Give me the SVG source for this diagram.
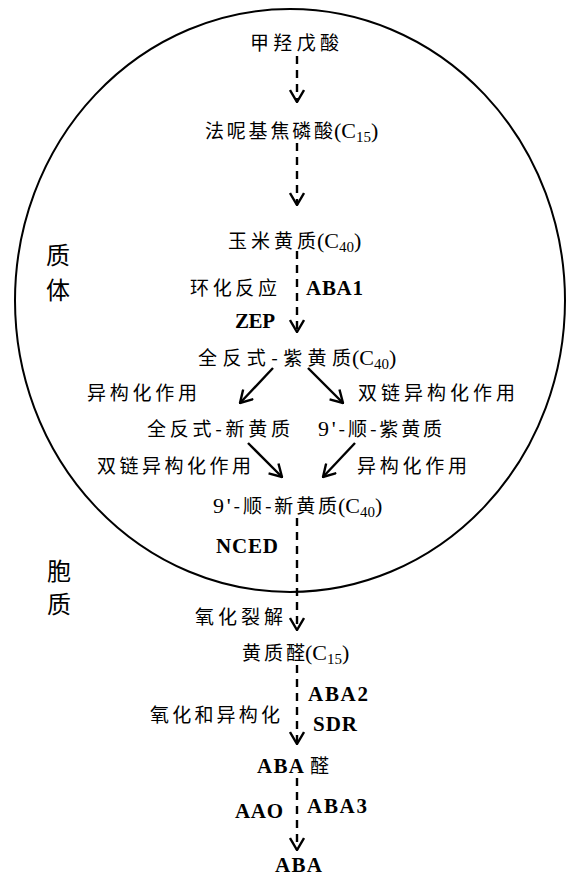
<svg xmlns="http://www.w3.org/2000/svg" width="567" height="877" viewBox="0 0 567 877">
<style>
.cn{font-family:"Noto Sans CJK SC","Noto Sans",sans-serif;font-size:19px;fill:#000}
.lt{font-family:"Liberation Serif","Noto Sans CJK SC",serif;font-size:21px;font-weight:bold;fill:#000}
.mx{font-family:"Liberation Serif","Noto Sans CJK SC",serif;font-size:22px;fill:#000}
.side{font-family:"Noto Sans CJK SC",sans-serif;font-size:24px;fill:#000}
.dash{stroke:#000;stroke-width:2.4;stroke-dasharray:8 6;fill:none}
.solid{stroke:#000;stroke-width:2.4;fill:none}
.sub{font-size:15px}
</style>
<defs>
<marker id="ah" viewBox="0 0 14 16" refX="13" refY="8" markerWidth="14" markerHeight="16" markerUnits="userSpaceOnUse" orient="auto">
<path d="M1,1 L13,8 L1,15" fill="none" stroke="#000" stroke-width="2.4"/>
</marker>
</defs>
<rect width="567" height="877" fill="#fff"/>
<g id="plastid">
<ellipse cx="290" cy="300.5" rx="275" ry="291.5" fill="none" stroke="#000" stroke-width="2"/>
</g>
<g id="region-labels">
<text class="side" x="46" y="264">质</text>
<text class="side" x="46" y="299">体</text>
<text class="side" x="47" y="580">胞</text>
<text class="side" x="47" y="613">质</text>
</g>
<g id="connectors">
<line class="dash" x1="297" y1="56" x2="297" y2="102" marker-end="url(#ah)"/>
<line class="dash" x1="297" y1="143" x2="297" y2="205" marker-end="url(#ah)"/>
<line class="dash" x1="297" y1="251" x2="297" y2="332" marker-end="url(#ah)"/>
<line class="solid" x1="273" y1="368" x2="240" y2="403" marker-end="url(#ah)"/>
<line class="solid" x1="308" y1="368" x2="343" y2="403" marker-end="url(#ah)"/>
<line class="solid" x1="248" y1="443" x2="282" y2="477" marker-end="url(#ah)"/>
<line class="solid" x1="355" y1="443" x2="323" y2="477" marker-end="url(#ah)"/>
<line class="dash" x1="297" y1="518" x2="297" y2="630" marker-end="url(#ah)"/>
<line class="dash" x1="297" y1="665" x2="297" y2="744" marker-end="url(#ah)"/>
<line class="dash" x1="297" y1="778" x2="297" y2="850" marker-end="url(#ah)"/>
</g>
<g id="n-mva"><text class="cn" x="250" y="50" font-size="20" textLength="89">甲羟戊酸</text></g>
<g id="n-fpp"><text class="mx" y="138"><tspan class="cn" font-size="20" x="205" textLength="128">法呢基焦磷酸</tspan><tspan x="334">(C</tspan><tspan class="sub" dy="4">15</tspan><tspan dy="-4">)</tspan></text></g>
<g id="n-zea"><text class="mx" y="248"><tspan class="cn" font-size="20" x="228" textLength="88">玉米黄质</tspan><tspan x="317">(C</tspan><tspan class="sub" dy="4">40</tspan><tspan dy="-4">)</tspan></text></g>
<g id="l-cyc"><text class="cn" x="190" y="295" textLength="87">环化反应</text></g>
<g id="l-aba1"><text class="lt" x="306" y="295" textLength="57">ABA1</text></g>
<g id="l-zep"><text class="lt" x="235" y="328" textLength="40">ZEP</text></g>
<g id="n-atv"><text class="mx" y="365"><tspan class="cn" font-size="20" x="198" textLength="153">全反式-紫黄质</tspan><tspan x="352">(C</tspan><tspan class="sub" dy="4">40</tspan><tspan dy="-4">)</tspan></text></g>
<g id="l-iso1"><text class="cn" x="87" y="400" textLength="110">异构化作用</text></g>
<g id="l-dbl1"><text class="cn" x="358" y="400" textLength="157">双链异构化作用</text></g>
<g id="n-atn"><text class="cn" x="147" y="436" font-size="20" textLength="143">全反式-新黄质</text></g>
<g id="n-cv"><text class="cn" x="318" y="436" font-size="20" textLength="124"><tspan font-family="Liberation Serif" font-size="22">9'</tspan>-顺-紫黄质</text></g>
<g id="l-dbl2"><text class="cn" x="97" y="473" textLength="154">双链异构化作用</text></g>
<g id="l-iso2"><text class="cn" x="357" y="473" textLength="110">异构化作用</text></g>
<g id="n-cn"><text class="mx" y="513"><tspan class="cn" font-size="20" x="213" textLength="124"><tspan font-family="Liberation Serif" font-size="22">9'</tspan>-顺-新黄质</tspan><tspan x="338">(C</tspan><tspan class="sub" dy="4">40</tspan><tspan dy="-4">)</tspan></text></g>
<g id="l-nced"><text class="lt" x="216" y="553" textLength="62">NCED</text></g>
<g id="l-ox"><text class="cn" x="195" y="624" textLength="88">氧化裂解</text></g>
<g id="n-xan"><text class="mx" y="660"><tspan class="cn" font-size="20" x="242" textLength="63">黄质醛</tspan><tspan x="305">(C</tspan><tspan class="sub" dy="4">15</tspan><tspan dy="-4">)</tspan></text></g>
<g id="l-aba2"><text class="lt" x="308" y="701" textLength="60">ABA2</text></g>
<g id="l-oxiso"><text class="cn" x="150" y="722" textLength="130">氧化和异构化</text></g>
<g id="l-sdr"><text class="lt" x="313" y="731" textLength="44">SDR</text></g>
<g id="n-abald"><text class="lt" y="773"><tspan x="257" textLength="47">ABA</tspan><tspan class="cn" font-weight="normal" font-size="20" x="310">醛</tspan></text></g>
<g id="l-aao"><text class="lt" x="235" y="818" textLength="48">AAO</text></g>
<g id="l-aba3"><text class="lt" x="307" y="813" textLength="60">ABA3</text></g>
<g id="n-aba"><text class="lt" x="275" y="872" textLength="47">ABA</text></g>
</svg>
